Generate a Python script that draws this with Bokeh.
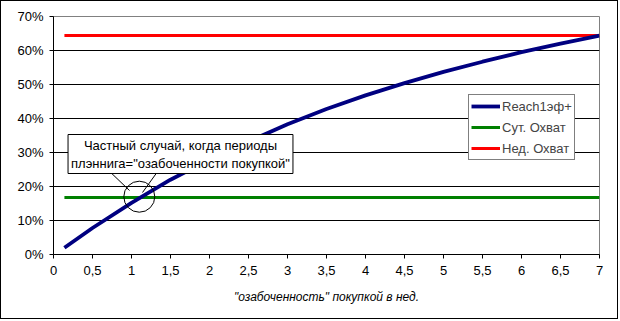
from bokeh.plotting import figure
from bokeh.models import (Range1d, FixedTicker, NumeralTickFormatter, Legend, LegendItem,
                          Label, Arrow)
from bokeh.embed import file_html
from bokeh.resources import INLINE

# ---- data ----
weeks = [0.14, 0.5, 1.0, 1.5, 2.0, 2.5, 3.0, 3.5, 4.0, 4.5, 5.0, 5.5, 6.0, 6.5, 7.0]
reach1 = [0.020, 0.078, 0.152, 0.220, 0.279, 0.332, 0.383, 0.428, 0.468, 0.504,
          0.537, 0.567, 0.595, 0.620, 0.644]
span_x = [0.14, 7.0]
daily_reach = [0.168, 0.168]
weekly_reach = [0.644, 0.644]
x_ticks = [0, 0.5, 1, 1.5, 2, 2.5, 3, 3.5, 4, 4.5, 5, 5.5, 6, 6.5, 7]
y_ticks = [0, 0.1, 0.2, 0.3, 0.4, 0.5, 0.6, 0.7]
series_names = ["Reach1эф+", "Сут. Охват", "Нед. Охват"]
note_text = 'Частный случай, когда периоды\nплэннига="озабоченности покупкой"'
highlight = (1.1, 0.17)
x_title = '"озабоченность" покупкой в нед.'

FONT = "Liberation Sans"

p = figure(width=618, height=319, output_backend="svg", toolbar_location=None,
           x_range=Range1d(0, 7), y_range=Range1d(0, 0.7),
           min_border_left=52, min_border_right=20, min_border_top=15, min_border_bottom=66)
p.styles = {"border": "1px solid black"}
p.background_fill_color = "white"
p.border_fill_color = "white"
p.outline_line_color = "#808080"
p.outline_line_width = 1

p.xgrid.grid_line_color = None
p.ygrid.grid_line_color = "black"
p.ygrid.grid_line_width = 1
p.ygrid.ticker = FixedTicker(ticks=y_ticks)

p.xaxis.ticker = FixedTicker(ticks=x_ticks)
p.xaxis.major_label_overrides = {t: str(t).replace(".", ",") for t in x_ticks if t != int(t)}
p.yaxis.ticker = FixedTicker(ticks=y_ticks)
p.yaxis.formatter = NumeralTickFormatter(format="0%")
for ax in (p.xaxis, p.yaxis):
    ax.axis_line_color = "black"
    ax.major_tick_line_color = "black"
    ax.major_tick_out = 4
    ax.major_tick_in = 0
    ax.minor_tick_line_color = None
    ax.major_label_text_font = FONT
    ax.major_label_text_font_size = "13px"
    ax.major_label_text_color = "black"
p.xaxis.major_label_standoff = 7
p.yaxis.major_label_standoff = 6
p.xaxis.axis_label = x_title
p.xaxis.axis_label_text_font = FONT
p.xaxis.axis_label_text_font_style = "italic"
p.xaxis.axis_label_text_font_size = "12px"
p.xaxis.axis_label_standoff = 12
p.xaxis.axis_label_text_color = "black"

r_green = p.line(span_x, daily_reach, line_color="#008000", line_width=3)
r_red = p.line(span_x, weekly_reach, line_color="#ff0000", line_width=3)
r_blue = p.line(weeks, reach1, line_color="#000080", line_width=3.8)

p.scatter([highlight[0]], [highlight[1]], size=31, fill_color=None, line_color="black", line_width=1)

p.add_layout(Arrow(end=None, x_start=52, y_start=87, x_end=76, y_end=64,
                   start_units="screen", end_units="screen", line_color="black", line_width=1))
p.add_layout(Arrow(end=None, x_start=107, y_start=87, x_end=89, y_end=62,
                   start_units="screen", end_units="screen", line_color="black", line_width=1))

p.add_layout(Label(x=127, y=120, x_units="screen", y_units="screen", text=note_text,
                   text_align="center", text_baseline="top", text_font=FONT,
                   text_font_size="13px", text_color="black",
                   border_line_color="black", background_fill_color="white", padding=3))

legend = Legend(items=[LegendItem(label=series_names[0], renderers=[r_blue]),
                       LegendItem(label=series_names[1], renderers=[r_green]),
                       LegendItem(label=series_names[2], renderers=[r_red])],
                location=(415, 94), orientation="vertical",
                border_line_color="black", border_line_width=1,
                background_fill_color="white", background_fill_alpha=1,
                label_text_font=FONT, label_text_font_size="13px",
                glyph_width=29, glyph_height=18, label_height=18, label_standoff=2,
                spacing=3, padding=2, margin=0)
p.add_layout(legend)

open("out.html", "w").write(file_html(p, INLINE))
